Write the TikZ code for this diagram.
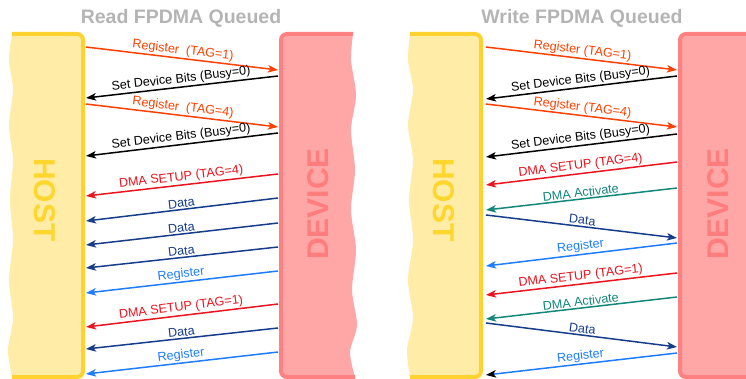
\documentclass[tikz,border=0pt]{standalone}
\usepackage{fontspec}
\setmainfont{Liberation Sans}
\usetikzlibrary{arrows.meta}
\definecolor{regc}{RGB}{255,64,0}
\definecolor{dmared}{RGB}{235,20,30}
\definecolor{darkblue}{RGB}{22,60,140}
\definecolor{lightblue}{RGB}{30,125,255}
\definecolor{tealc}{RGB}{18,135,122}
\definecolor{hostfill}{RGB}{255,236,166}
\definecolor{hostline}{RGB}{255,210,48}
\definecolor{hosttext}{RGB}{255,214,45}
\definecolor{devfill}{RGB}{255,166,166}
\definecolor{devline}{RGB}{255,128,128}
\definecolor{devtext}{RGB}{255,125,125}
\definecolor{titlec}{RGB}{180,180,180}
\tikzset{
  lbl/.style={midway, sloped, above, inner sep=1.2pt, font=\fontsize{12.6}{14}\selectfont},
  tipa/.tip={Stealth[length=10pt,width=7.5pt,inset=2.5pt]},
  fwd/.style={draw=#1, line width=1.5pt, -tipa, text=#1},
  bwd/.style={draw=#1, line width=1.5pt, tipa-, text=#1},
  titlestyle/.style={font=\fontsize{19.5}{22}\selectfont\bfseries, text=titlec, inner sep=0pt},
  sidelbl/.style={font=\fontsize{30}{32}\selectfont\bfseries, inner sep=0pt},
  hostborder/.style={draw=hostline, line width=4pt, rounded corners=6pt},
  devborder/.style={draw=devline, line width=4pt, rounded corners=6pt},
}
\begin{document}
\begin{tikzpicture}[x=1pt,y=-1pt]
\useasboundingbox (0,0) rectangle (746,379);
% ---------- boxes, left panel
\fill[hostfill] (12,34) [rounded corners=6pt] -- (83,34) -- (83,377) [sharp corners] -- (12,377)
  -- plot[smooth] coordinates {(12,377) (8,350) (13,318) (9,280) (13,240) (10,200) (13,160) (9,125) (13,90) (9,60) (12,34)} -- cycle;
\draw[hostborder] (12,34) -- (83,34) -- (83,377) -- (12,377);
\fill[devfill] (353,34) [rounded corners=6pt] -- (281,34) -- (281,377) [sharp corners] -- (355,377)
  -- plot[smooth] coordinates {(355,377) (350,352) (357,325) (352,290) (356,250) (351,210) (355,170) (351,130) (356,95) (351,60) (353,34)} -- cycle;
\draw[devborder] (353,34) -- (281,34) -- (281,377) -- (355,377);
% ---------- boxes, right panel
\fill[hostfill] (410,34) [rounded corners=6pt] -- (481,34) -- (481,377) [sharp corners] -- (410,377)
  -- plot[smooth] coordinates {(410,377) (407,350) (413,318) (408,280) (413,240) (409,200) (413,160) (408,125) (413,90) (408,60) (410,34)} -- cycle;
\draw[hostborder] (410,34) -- (481,34) -- (481,377) -- (410,377);
\fill[devfill] (747,34) [rounded corners=6pt] -- (680,34) -- (680,377) [sharp corners] -- (747,377) -- cycle;
\draw[devborder] (748,34) -- (680,34) -- (680,377) -- (748,377);
% ---------- titles and side labels
\node[titlestyle] (t1) at (181,18) {Read FPDMA Queued};
\node[titlestyle] (t2) at (582,18) {Write FPDMA Queued};
\node[sidelbl, text=hosttext, rotate=-90] (hostL) at (45,200) {HOST};
\node[sidelbl, text=devtext, rotate=90] (devL) at (318,204) {DEVICE};
\node[sidelbl, text=hosttext, rotate=-90] (hostR) at (444,200) {HOST};
\node[sidelbl, text=devtext, rotate=90] (devR) at (718,204) {DEVICE};
% ---------- coordinates, left panel
\foreach \n/\hy/\dy in {1/47/70, 2/98/76, 3/104/127, 4/156/133, 5/196/174, 6/221/198,
  7/245/223, 8/268/247, 9/293/271, 10/327/304, 11/349/328, 12/374/352} {
  \coordinate (lh\n) at (86,\hy);
  \coordinate (ld\n) at (278,\dy);
}
\foreach \n/\hy/\dy in {1/47/70, 2/99/76, 3/104/127, 4/157/134, 5/185/162, 6/210/188,
  7/215/238, 8/266/243, 9/295/273, 10/319/297, 11/323/347, 12/375/353} {
  \coordinate (rh\n) at (486,\hy);
  \coordinate (rd\n) at (677,\dy);
}
% ---------- left panel arrows
\draw[fwd=regc] (lh1) -- node[lbl] {Register~ (TAG=1)} (ld1);
\draw[bwd=black] (lh2) -- node[lbl] {Set Device Bits (Busy=0)} (ld2);
\draw[fwd=regc] (lh3) -- node[lbl] {Register~ (TAG=4)} (ld3);
\draw[bwd=black] (lh4) -- node[lbl] {Set Device Bits (Busy=0)} (ld4);
\draw[bwd=dmared] (lh5) -- node[lbl] {DMA SETUP (TAG=4)} (ld5);
\draw[bwd=darkblue] (lh6) -- node[lbl] {Data} (ld6);
\draw[bwd=darkblue] (lh7) -- node[lbl] {Data} (ld7);
\draw[bwd=darkblue] (lh8) -- node[lbl] {Data} (ld8);
\draw[bwd=lightblue] (lh9) -- node[lbl] {Register} (ld9);
\draw[bwd=dmared] (lh10) -- node[lbl] {DMA SETUP (TAG=1)} (ld10);
\draw[bwd=darkblue] (lh11) -- node[lbl] {Data} (ld11);
\draw[bwd=lightblue] (lh12) -- node[lbl] {Register} (ld12);
% ---------- right panel arrows
\draw[fwd=regc] (rh1) -- node[lbl] {Register (TAG=1)} (rd1);
\draw[bwd=black] (rh2) -- node[lbl] {Set Device Bits (Busy=0)} (rd2);
\draw[fwd=regc] (rh3) -- node[lbl] {Register (TAG=4)} (rd3);
\draw[bwd=black] (rh4) -- node[lbl] {Set Device Bits (Busy=0)} (rd4);
\draw[bwd=dmared] (rh5) -- node[lbl] {DMA SETUP (TAG=4)} (rd5);
\draw[bwd=tealc] (rh6) -- node[lbl] {DMA Activate} (rd6);
\draw[fwd=darkblue] (rh7) -- node[lbl] {Data} (rd7);
\draw[bwd=lightblue] (rh8) -- node[lbl] {Register} (rd8);
\draw[bwd=dmared] (rh9) -- node[lbl] {DMA SETUP (TAG=1)} (rd9);
\draw[bwd=tealc] (rh10) -- node[lbl] {DMA Activate} (rd10);
\draw[fwd=darkblue] (rh11) -- node[lbl] {Data} (rd11);
\draw[draw=lightblue, line width=1.5pt, {Stealth[length=10pt,width=7.5pt,inset=2.5pt,color=black]}-, text=lightblue] (rh12) -- node[lbl] {Register} (rd12);
\end{tikzpicture}
\end{document}
